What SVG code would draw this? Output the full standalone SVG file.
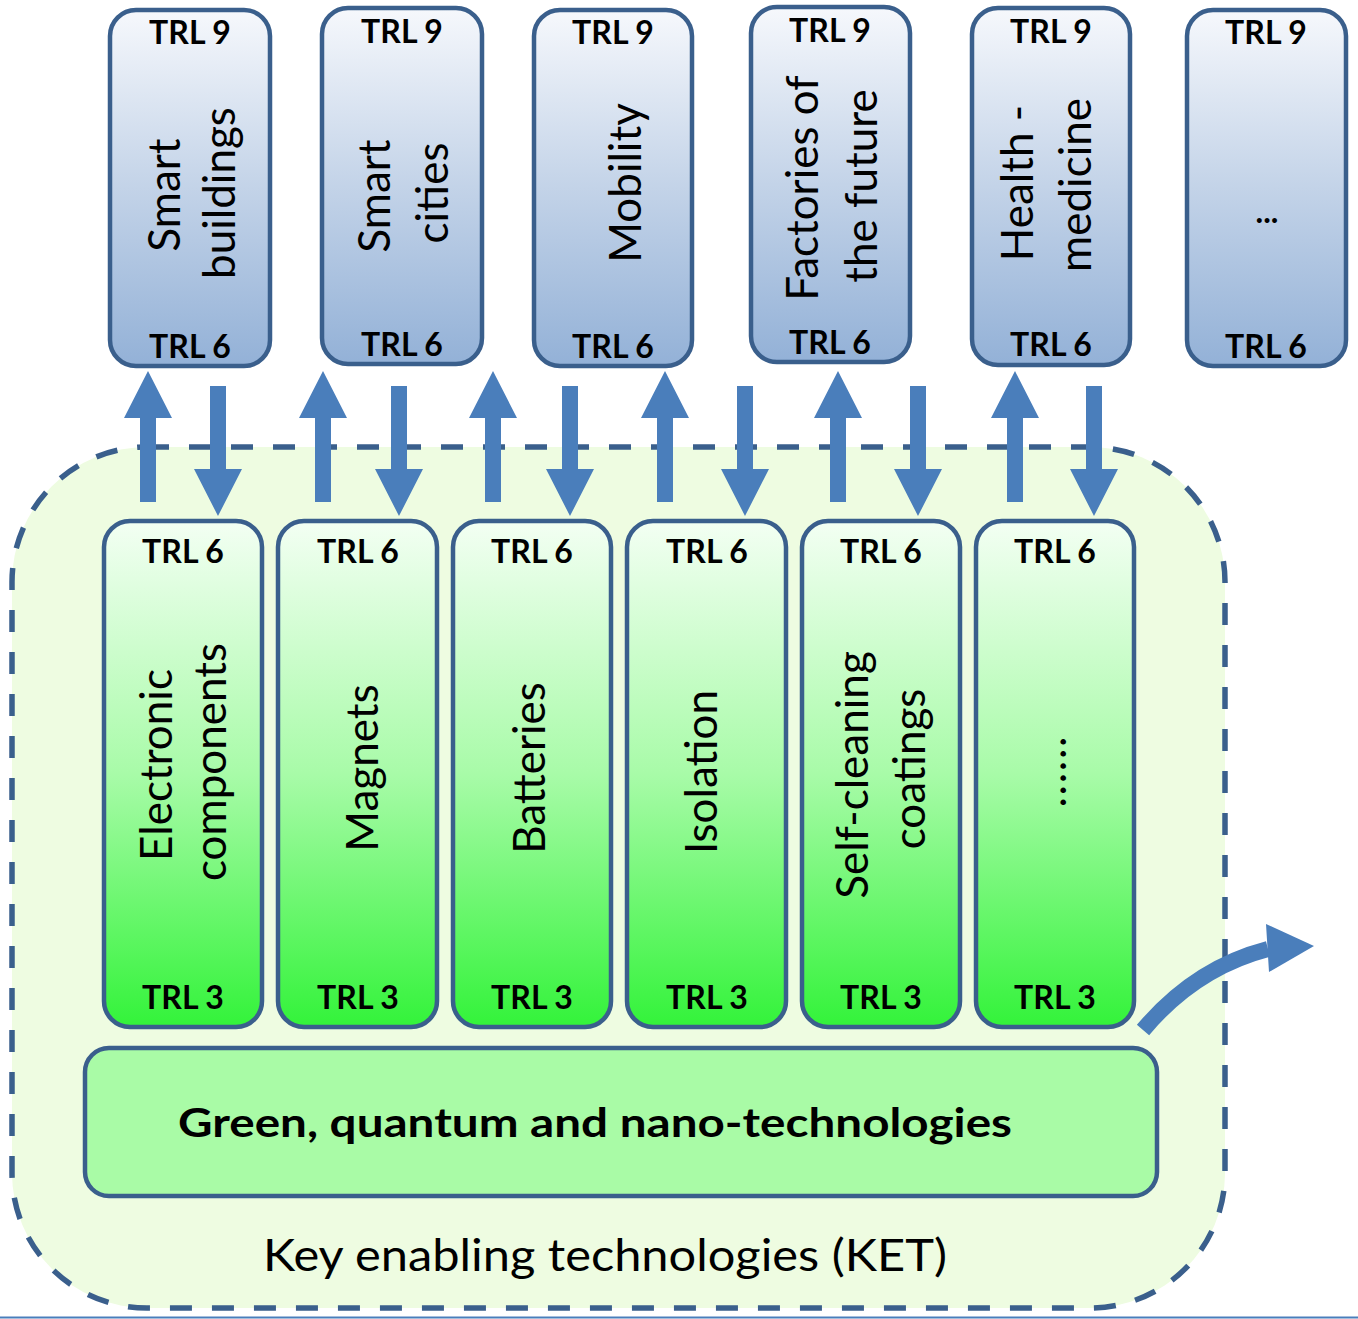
<svg xmlns="http://www.w3.org/2000/svg" width="1358" height="1319" viewBox="0 0 1358 1319">
<defs>
<linearGradient id="gBlue" x1="0" y1="0" x2="0" y2="1">
<stop offset="0" stop-color="#f6f8fc"/>
<stop offset="0.5" stop-color="#c3d3e8"/>
<stop offset="1" stop-color="#93b1d7"/>
</linearGradient>
<linearGradient id="gGreen" x1="0" y1="0" x2="0" y2="1">
<stop offset="0" stop-color="#f3fff3"/>
<stop offset="0.5" stop-color="#a8fba8"/>
<stop offset="1" stop-color="#33f33a"/>
</linearGradient>
<style>
.app{fill:url(#gBlue);stroke:#3a5f8c;stroke-width:4.5}
.ket{fill:url(#gGreen);stroke:#3a5f8c;stroke-width:4.5}
.trl{font-family:Lato,"Liberation Sans",sans-serif;font-weight:bold;font-size:32px;fill:#000;text-anchor:middle}
.lbl{font-family:Lato,"Liberation Sans",sans-serif;font-size:44px;fill:#000;text-anchor:middle}
.arr{fill:#4a7ebb}
</style>
</defs>
<rect width="1358" height="1319" fill="#fff"/>
<line x1="0" y1="1317.5" x2="1358" y2="1317.5" stroke="#4a7ebb" stroke-width="2"/>

<g id="ket-area">
<rect x="12" y="447" width="1213" height="861" rx="135" ry="135" fill="#eefce1" stroke="#3a5f8c" stroke-width="5.5" stroke-dasharray="22 20"/>
<text x="605" y="1271" font-family="Lato,'Liberation Sans',sans-serif" font-size="44" text-anchor="middle" textLength="684" lengthAdjust="spacingAndGlyphs">Key enabling technologies (KET)</text>
</g>

<g id="green-quantum-nano">
<rect x="85" y="1048" width="1072" height="148" rx="24" fill="#a9fba6" stroke="#3a5f8c" stroke-width="4.5"/>
<text x="595" y="1137" font-family="Lato,'Liberation Sans',sans-serif" font-weight="bold" font-size="40" text-anchor="middle" textLength="834" lengthAdjust="spacingAndGlyphs">Green, quantum and nano-technologies</text>
</g>

<!-- Application boxes -->
<g id="smart-buildings">
<rect class="app" x="110" y="10" width="160" height="356" rx="26"/>
<text class="trl" x="190" y="44">TRL 9</text>
<text class="trl" x="190" y="358">TRL 6</text>
<text class="lbl" transform="translate(180,195) rotate(-90)">Smart</text>
<text class="lbl" transform="translate(235,193) rotate(-90)">buildings</text>
</g>
<g id="smart-cities">
<rect class="app" x="322" y="8" width="160" height="356" rx="26"/>
<text class="trl" x="402" y="43">TRL 9</text>
<text class="trl" x="402" y="356">TRL 6</text>
<text class="lbl" transform="translate(390,196) rotate(-90)">Smart</text>
<text class="lbl" transform="translate(448,193) rotate(-90)">cities</text>
</g>
<g id="mobility">
<rect class="app" x="534" y="10" width="158" height="356" rx="26"/>
<text class="trl" x="613" y="44">TRL 9</text>
<text class="trl" x="613" y="358">TRL 6</text>
<text class="lbl" transform="translate(641,183) rotate(-90)">Mobility</text>
</g>
<g id="factories-of-the-future">
<rect class="app" x="751" y="7" width="159" height="355" rx="26"/>
<text class="trl" x="830" y="42">TRL 9</text>
<text class="trl" x="830" y="354">TRL 6</text>
<text class="lbl" transform="translate(818,188) rotate(-90)">Factories of</text>
<text class="lbl" transform="translate(877,186) rotate(-90)">the future</text>
</g>
<g id="health-medicine">
<rect class="app" x="972" y="8" width="158" height="357" rx="26"/>
<text class="trl" x="1051" y="43">TRL 9</text>
<text class="trl" x="1051" y="356">TRL 6</text>
<text class="lbl" transform="translate(1033,183) rotate(-90)">Health -</text>
<text class="lbl" transform="translate(1091,185) rotate(-90)">medicine</text>
</g>
<g id="more-applications">
<rect class="app" x="1187" y="10" width="159" height="356" rx="26"/>
<text class="trl" x="1266" y="44">TRL 9</text>
<text class="trl" x="1266" y="358">TRL 6</text>
<text class="trl" x="1267" y="223">...</text>
</g>

<!-- KET boxes -->
<g id="electronic-components">
<rect class="ket" x="104" y="521" width="158" height="506" rx="26"/>
<text class="trl" x="183" y="563">TRL 6</text>
<text class="trl" x="183" y="1009">TRL 3</text>
<text class="lbl" transform="translate(172,765) rotate(-90)">Electronic</text>
<text class="lbl" transform="translate(226,762) rotate(-90)">components</text>
</g>
<g id="magnets">
<rect class="ket" x="278" y="521" width="159" height="506" rx="26"/>
<text class="trl" x="358" y="563">TRL 6</text>
<text class="trl" x="358" y="1009">TRL 3</text>
<text class="lbl" transform="translate(378,768) rotate(-90)">Magnets</text>
</g>
<g id="batteries">
<rect class="ket" x="453" y="521" width="158" height="506" rx="26"/>
<text class="trl" x="532" y="563">TRL 6</text>
<text class="trl" x="532" y="1009">TRL 3</text>
<text class="lbl" transform="translate(545,768) rotate(-90)">Batteries</text>
</g>
<g id="isolation">
<rect class="ket" x="627" y="521" width="159" height="506" rx="26"/>
<text class="trl" x="707" y="563">TRL 6</text>
<text class="trl" x="707" y="1009">TRL 3</text>
<text class="lbl" transform="translate(717,772) rotate(-90)">Isolation</text>
</g>
<g id="self-cleaning-coatings">
<rect class="ket" x="802" y="521" width="158" height="506" rx="26"/>
<text class="trl" x="881" y="563">TRL 6</text>
<text class="trl" x="881" y="1009">TRL 3</text>
<text class="lbl" transform="translate(868,775) rotate(-90)">Self-cleaning</text>
<text class="lbl" transform="translate(925,769) rotate(-90)">coatings</text>
</g>
<g id="more-kets">
<rect class="ket" x="976" y="521" width="158" height="506" rx="26"/>
<text class="trl" x="1055" y="563">TRL 6</text>
<text class="trl" x="1055" y="1009">TRL 3</text>
<text class="lbl" transform="translate(1066,772) rotate(-90)" textLength="71" lengthAdjust="spacing">......</text>
</g>

<g id="connectors">
<defs>
<path id="up" d="M-8,502 V418 H-24 L0,371 L24,418 H8 V502 Z"/>
<path id="down" d="M-8,386 V469 H-24 L0,516 L24,469 H8 V386 Z"/>
</defs>
<use href="#up" class="arr" x="148"/>
<use href="#down" class="arr" x="218"/>
<use href="#up" class="arr" x="323"/>
<use href="#down" class="arr" x="399"/>
<use href="#up" class="arr" x="493"/>
<use href="#down" class="arr" x="570"/>
<use href="#up" class="arr" x="665"/>
<use href="#down" class="arr" x="745"/>
<use href="#up" class="arr" x="838"/>
<use href="#down" class="arr" x="918"/>
<use href="#up" class="arr" x="1015"/>
<use href="#down" class="arr" x="1094"/>
<path d="M1143,1030 Q1195,968 1268,949" fill="none" stroke="#4a7ebb" stroke-width="16"/>
<polygon points="1266,924 1314,946 1269,972" fill="#4a7ebb"/>
</g>
</svg>
